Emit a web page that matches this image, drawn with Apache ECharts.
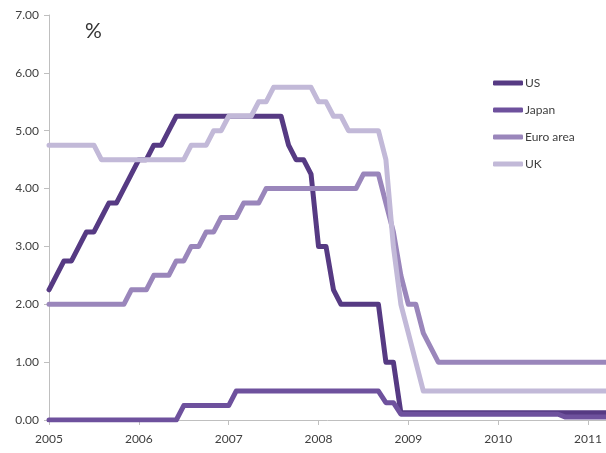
<!DOCTYPE html>
<html>
<head>
<meta charset="utf-8">
<script src="https://cdn.jsdelivr.net/npm/echarts@6/dist/echarts.min.js"></script>
<style>
html,body{margin:0;padding:0;background:#fff;}
#chart{width:606px;height:453px;}
</style>
</head>
<body>
<div id="chart"></div>
<script>
// Monthly values starting January 2005 (index 0)
const startYear = 2005;
const yearTicks = [2005, 2006, 2007, 2008, 2009, 2010, 2011];
const seriesNames = ['US', 'Japan', 'Euro area', 'UK'];

function runs(list) { // list of [value, count]
  const out = [];
  list.forEach(([v, n]) => { for (let k = 0; k < n; k++) out.push(v); });
  return out;
}

const usRate = runs([[2.25,1],[2.5,1],[2.75,2],[3.0,1],[3.25,2],[3.5,1],[3.75,2],[4.0,1],[4.25,1],[4.5,2],[4.75,2],[5.0,1],[5.25,15],[4.75,1],[4.5,2],[4.25,1],[3.0,2],[2.25,1],[2.0,6],[1.0,2],[0.125,29]]);
const japanRate = runs([[0,18],[0.25,7],[0.5,20],[0.3,2],[0.1,22],[0.05,7]]);
const euroRate = runs([[2.0,11],[2.25,3],[2.5,3],[2.75,2],[3.0,2],[3.25,2],[3.5,3],[3.75,3],[4.0,13],[4.25,3],[3.75,1],[3.25,1],[2.5,1],[2.0,2],[1.5,1],[1.25,1],[1.0,24]]);
const ukRate = runs([[4.75,7],[4.5,12],[4.75,3],[5.0,2],[5.25,4],[5.5,2],[5.75,6],[5.5,2],[5.25,2],[5.0,5],[4.5,1],[3.0,1],[2.0,1],[1.5,1],[1.0,1],[0.5,26]]);

const colors = ['#563a83', '#6e519d', '#9a86bb', '#c2b9d8'];
const allData = [usRate, japanRate, euroRate, ukRate];

function toPoints(arr) {
  return arr.map((v, i) => [startYear + i / 12, v]);
}

const chart = echarts.init(document.getElementById('chart'), null, {renderer: 'canvas'});
const font = 'Lato, "Open Sans", sans-serif';
chart.setOption({
  animation: false,
  backgroundColor: '#ffffff',
  title: {
    text: '%',
    left: 80,
    top: 16,
    textStyle: {fontSize: 21, fontWeight: 'normal', color: '#333333', fontFamily: font}
  },
  legend: {
    orient: 'vertical',
    left: 488,
    top: 71,
    itemWidth: 30,
    itemHeight: 5,
    itemGap: 13,
    icon: 'roundRect',
    textStyle: {fontSize: 12, color: '#404040', fontFamily: font, lineHeight: 14, padding: [0,0,0,-3]},
    data: seriesNames
  },
  grid: {left: 49, right: 0, top: 15, bottom: 33, containLabel: false},
  xAxis: {
    type: 'value',
    min: 2005,
    max: 2011.2,
    interval: 1,
    axisLine: {show: true, lineStyle: {color: '#bfbfbf', width: 1}},
    axisTick: {show: true, length: 5, lineStyle: {color: '#bfbfbf'}},
    axisLabel: {
      color: '#404040', fontSize: 12, fontFamily: font, margin: 13,
      showMaxLabel: false,
      formatter: v => (yearTicks.indexOf(Math.round(v)) >= 0 && Math.abs(v - Math.round(v)) < 1e-6) ? String(Math.round(v)) : ''
    },
    splitLine: {show: false}
  },
  yAxis: {
    type: 'value',
    min: 0,
    max: 7,
    interval: 1,
    axisLine: {show: true, lineStyle: {color: '#bfbfbf', width: 1}},
    axisTick: {show: true, length: 5, lineStyle: {color: '#bfbfbf'}},
    axisLabel: {color: '#404040', fontSize: 12, fontFamily: font, margin: 10, formatter: v => v.toFixed(2)},
    splitLine: {show: false}
  },
  series: seriesNames.map((name, k) => ({
    name: name,
    type: 'line',
    data: toPoints(allData[k]),
    symbol: 'none',
    color: colors[k],
    lineStyle: {width: 5, color: colors[k], join: 'round', cap: 'round'},
    clip: true
  }))
});
</script>
</body>
</html>
